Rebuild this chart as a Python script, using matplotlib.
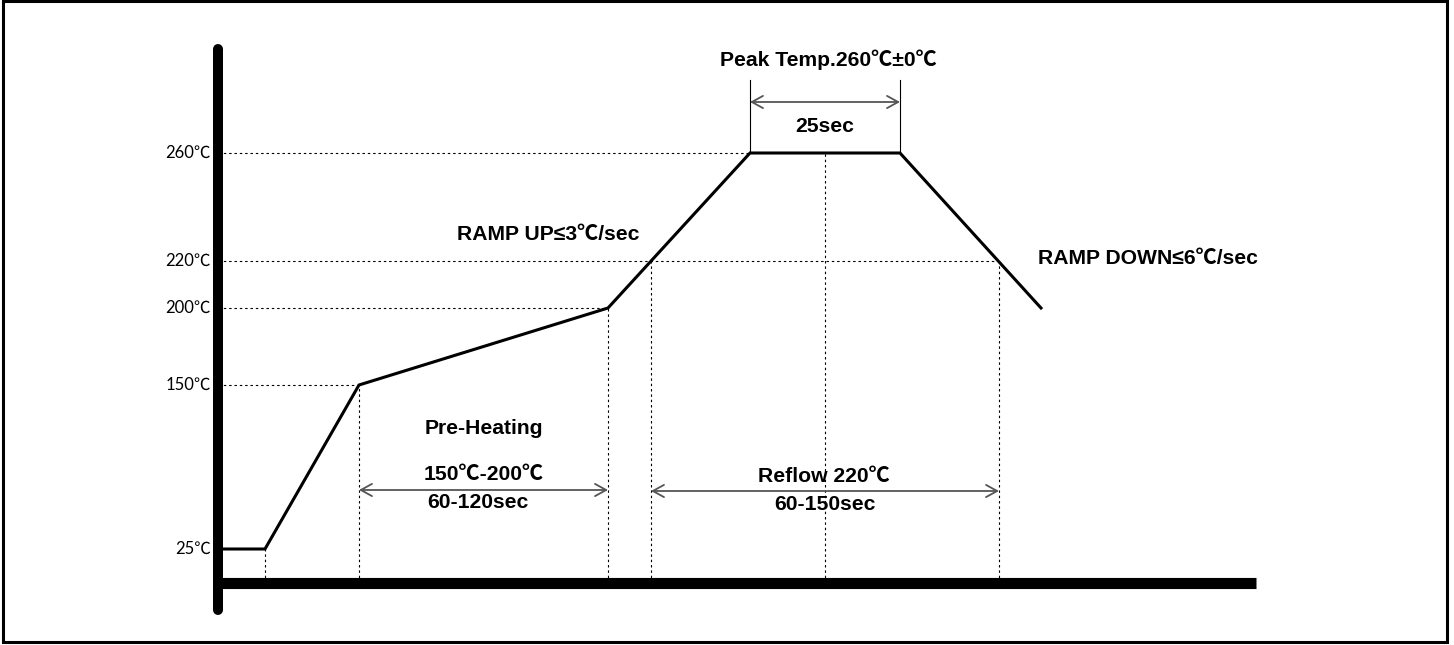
import numpy as np
import matplotlib
matplotlib.use('Agg')
import matplotlib.pyplot as plt
from matplotlib.patches import Rectangle

# Reflow profile (schematic): x in time units from the origin, y in degC
profile_x = [0, 47, 141, 390, 532, 682, 823]
profile_t = [25, 25, 150, 200, 260, 260, 200]

# temperature levels marked on the y axis
tick_temps = [260, 220, 200, 150, 25]
tick_labels = ['260℃', '220℃', '200℃', '150℃', '25℃']

# guide lines: (x where the level meets the curve, temperature)
guide_h = [(532, 260), (781, 220), (390, 200), (141, 150)]
guide_v = [(47, 25), (141, 150), (390, 200), (433, 220), (607, 260), (781, 220)]

# spans marked with arrows
preheat_span = (141, 390)
reflow_span = (433, 781)
peak_span = (532, 682)

# The drawing is not to scale: temperature -> vertical position is piecewise
anchor_t = np.array([-100, 0, 25, 150, 200, 220, 260, 400])
anchor_p = np.array([719, 583, 549, 385, 308, 261, 153, -225])


def fwd(t):
    return -np.interp(t, anchor_t, anchor_p)


def inv(v):
    return np.interp(-np.asarray(v), anchor_p[::-1], anchor_t[::-1])


def T(py):
    # temperature at a given pixel row (for placing labels)
    return float(inv(-py))


X0 = 218
bold = dict(family=['Liberation Sans', 'Noto Sans CJK SC'], fontweight='bold',
            fontsize=15.2, color='black', ha='center', va='center')
tick_font = dict(family=['Lato', 'Noto Sans CJK SC'], fontsize=12,
                 ha='right', va='center', color='black')

fig = plt.figure(figsize=(14.54, 6.45), dpi=100)
ax = fig.add_axes([0, 0, 1, 1])
ax.set_yscale('function', functions=(fwd, inv))
ax.set_xlim(-X0, 1454 - X0)
ax.set_ylim(T(645), T(0))
ax.axis('off')

dot = dict(color='black', lw=0.8, linestyle=(0, (2.2, 2.6)))

# dotted guides
for x, t in guide_h:
    ax.plot([0, x], [t, t], **dot)
for x, t in guide_v:
    ax.plot([x, x], [0, t], **dot)

# the main axes
ax.plot([0, 0], [T(610), T(49)], color='black', lw=7.2, solid_capstyle='round')
ax.plot([0, 1038], [0, 0], color='black', lw=8, solid_capstyle='butt')

# profile
ax.plot(profile_x, profile_t, color='black', lw=2.2, solid_joinstyle='miter')

# tick labels
for t, lab in zip(tick_temps, tick_labels):
    ax.text(-7, t, lab, **tick_font)

# peak markers
for x in peak_span:
    ax.plot([x, x], [260, T(80)], color='black', lw=0.8)

arrow = dict(arrowstyle='<->,head_length=0.4,head_width=0.22', color='#555555',
             lw=1.3, shrinkA=0, shrinkB=0, mutation_scale=20)
ax.annotate('', xy=(peak_span[0], T(102)), xytext=(peak_span[1], T(102)), arrowprops=arrow)
ax.annotate('', xy=(preheat_span[0], T(490)), xytext=(preheat_span[1], T(490)), arrowprops=arrow)
ax.annotate('', xy=(reflow_span[0], T(491)), xytext=(reflow_span[1], T(491)), arrowprops=arrow)

# labels
ax.text(828 - X0, T(60), 'Peak Temp.260℃±0℃', **bold)
ax.text(825 - X0, T(127), '25sec', **bold)
ax.text(548 - X0, T(235), 'RAMP UP≤3℃/sec', **bold)
ax.text(1148 - X0, T(259), 'RAMP DOWN≤6℃/sec', **bold)
ax.text(484 - X0, T(428), 'Pre-Heating', **bold)
ax.text(484 - X0, T(474), '150℃-200℃', **bold)
ax.text(478 - X0, T(503), '60-120sec', **bold)
ax.text(824 - X0, T(476), 'Reflow 220℃', **bold)
ax.text(825 - X0, T(504), '60-150sec', **bold)

# frame round the picture
fig.patches.append(Rectangle((0.002, 0.0054), 0.9933, 0.9923, transform=fig.transFigure,
                             fill=False, edgecolor='black', lw=2.2))

fig.savefig('out.png', dpi=100)
